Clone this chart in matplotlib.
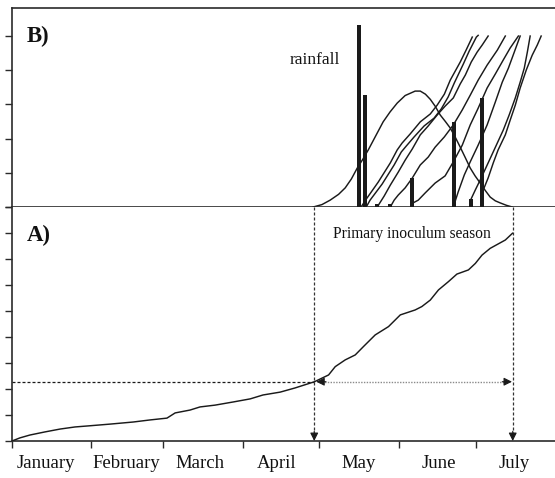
import matplotlib
matplotlib.use("Agg")
import matplotlib.pyplot as plt

plt.rcParams['font.family'] = ['Liberation Serif', 'DejaVu Serif']

# ---- data -------------------------------------------------------------
# x axis: day of year (0 = 1 January)
month_starts = [0, 31, 59, 90, 120, 151, 181, 212]
month_names = ['January', 'February', 'March', 'April', 'May', 'June', 'July']
month_label_days = [13.2, 44.5, 73.5, 103.5, 135.5, 166.5, 196.0]

season_start = 118.0
season_end = 195.5

# A) cumulative curve
a_days = [0, 3.1, 7.0, 12.9, 18.8, 24.6, 29.7, 38.3, 47.3, 53.9, 60.5, 63.7,
          69.5, 73.4, 79.3, 86.3, 93.0, 98.0, 104.7, 110.5, 118.1, 123.6,
          126.2, 130.1, 134.0, 137.2, 141.8, 147.0, 151.6, 157.4, 160.0,
          163.3, 166.5, 170.4, 173.7, 178.2, 180.9, 183.5, 186.7, 192.6, 195.4]
a_vals = [0, 0.12, 0.23, 0.35, 0.46, 0.54, 0.58, 0.65, 0.73, 0.81, 0.88, 1.08,
          1.19, 1.31, 1.38, 1.50, 1.62, 1.77, 1.88, 2.04, 2.28, 2.54,
          2.86, 3.12, 3.31, 3.63, 4.08, 4.40, 4.85, 5.04, 5.17,
          5.42, 5.81, 6.13, 6.42, 6.58, 6.83, 7.15, 7.41, 7.73, 7.99]

# B) rainfall events
rain_days = [135.5, 137.9, 142.6, 147.7, 156.3, 172.7, 179.3, 183.6]
rain_vals = [5.32, 3.27, 0.09, 0.09, 0.85, 2.49, 0.23, 3.19]

# B) seasonal release curve
bell_days = [117.6, 121.0, 124.2, 127.5, 130.1, 132.5, 134.8, 137.0, 139.1,
             142.0, 144.9, 147.6, 150.4, 153.5, 157.4, 159.4, 161.4, 163.3,
             165.2, 167.2, 169.2, 171.1, 173.0, 175.0, 177.0, 178.9, 180.8,
             182.8, 184.8, 186.7, 188.7, 190.6, 193.0, 195.3]
bell_vals = [0.0, 0.07, 0.20, 0.37, 0.56, 0.82, 1.14, 1.40, 1.67,
             2.08, 2.49, 2.78, 3.04, 3.26, 3.39, 3.39, 3.30, 3.15,
             2.95, 2.69, 2.50, 2.31, 2.05, 1.75, 1.44, 1.14, 0.91,
             0.70, 0.48, 0.29, 0.18, 0.12, 0.05, 0.0]

# B) progress curves following each rain event
prog_days = [
    [136.3, 138.3, 143.0, 147.7, 150.4, 152.3, 155.5, 159.4, 163.3, 166.0,
     168.8, 171.1, 175.0, 177.3, 179.7],
    [138.3, 139.8, 144.5, 149.2, 152.0, 153.9, 157.0, 160.9, 164.8, 167.6,
     170.3, 172.7, 176.2, 178.5, 181.3, 182.0],
    [142.6, 145.3, 147.7, 150.8, 153.5, 156.3, 159.4, 162.5, 166.0, 169.1,
     172.3, 175.0, 177.0, 179.3, 181.6, 183.6, 185.9],
    [147.7, 149.2, 150.8, 153.5, 156.3, 159.4, 162.5, 165.2, 168.8, 172.3,
     175.8, 178.9, 182.0, 185.5, 189.5, 192.6],
    [156.6, 158.6, 161.3, 165.2, 169.1, 172.3, 175.8, 178.9, 182.0, 185.5,
     188.7, 191.8, 194.5, 197.7],
    [172.3, 174.2, 176.6, 178.9, 182.0, 185.5, 188.7, 191.4, 193.8, 196.1,
     198.4],
    [178.9, 180.9, 182.8, 185.9, 189.1, 191.8, 194.1, 196.5, 198.4, 200.0,
     201.2, 202.3],
    [184.0, 185.9, 187.9, 189.8, 192.6, 194.5, 196.5, 198.4, 200.8, 203.1,
     205.1, 206.6],
]
prog_vals = [
    [0, 0.23, 0.73, 1.29, 1.67, 1.87, 2.14, 2.49, 2.72, 2.98,
     3.30, 3.71, 4.24, 4.59, 4.97],
    [0, 0.20, 0.67, 1.23, 1.61, 1.78, 2.05, 2.37, 2.60, 2.87,
     3.22, 3.63, 4.18, 4.56, 4.97, 5.02],
    [0, 0.32, 0.64, 1.02, 1.37, 1.70, 2.11, 2.37, 2.69, 2.95,
     3.19, 3.60, 3.86, 4.24, 4.53, 4.74, 5.00],
    [0, 0.20, 0.35, 0.56, 0.85, 1.23, 1.46, 1.75, 2.05, 2.40,
     2.84, 3.27, 3.71, 4.15, 4.59, 5.00],
    [0.12, 0.20, 0.41, 0.70, 0.91, 1.32, 1.81, 2.40, 2.89, 3.48,
     3.89, 4.30, 4.65, 5.00],
    [0, 0.44, 0.94, 1.32, 1.81, 2.40, 3.07, 3.65, 4.06, 4.53, 5.00],
    [0.18, 0.50, 0.79, 1.29, 1.81, 2.25, 2.69, 3.19, 3.65, 4.06, 4.53, 5.00],
    [0.50, 0.85, 1.29, 1.67, 2.11, 2.54, 2.98, 3.48, 4.01, 4.44, 4.74, 5.00],
]

# ---- figure -----------------------------------------------------------
W, H = 555, 478
fig = plt.figure(figsize=(W / 100, H / 100), dpi=100)
axB = fig.add_axes([12 / W, (H - 207) / H, 543 / W, 199 / H])
axA = fig.add_axes([12 / W, (H - 441) / H, 543 / W, 234 / H])

ink = '#1a1a1a'
spine_c = '#2a2a2a'

for ax in (axA, axB):
    ax.set_xlim(month_starts[0], month_starts[-1])
    ax.spines['right'].set_visible(False)
    for s in ('left', 'top', 'bottom'):
        ax.spines[s].set_color(spine_c)
        ax.spines[s].set_linewidth(1.2)
    ax.tick_params(axis='y', direction='out', length=5, width=1.0,
                   color=spine_c, labelleft=False)

axA.spines['top'].set_visible(False)
axB.set_ylim(0, 5.82)
axA.set_ylim(0, 9)
axB.set_yticks(range(0, 6))
axA.set_yticks(range(0, 10))

axB.set_xticks([])
axA.set_xticks(month_starts[:-1])
axA.set_xticklabels([])
axA.set_xticks(month_label_days, minor=True)
axA.set_xticklabels(month_names, minor=True, fontsize=13.5, color='#111111')
axA.tick_params(axis='x', which='major', direction='out', length=5,
                width=1.0, color=spine_c)
axA.tick_params(axis='x', which='minor', length=0, pad=10)

# ---- panel B ----------------------------------------------------------
axB.bar(rain_days, rain_vals, width=1.6, color=ink, zorder=3)
axB.plot(bell_days, bell_vals, color=ink, lw=1.05, zorder=2)
for dd, vv in zip(prog_days, prog_vals):
    axB.plot(dd, vv, color=ink, lw=1.05, zorder=2)

axB.text(0.0276, 0.829, 'B)', transform=axB.transAxes, fontsize=16.5,
         fontweight='bold', color='#111111', va='baseline')
axB.text(0.512, 0.719, 'rainfall', transform=axB.transAxes, fontsize=12.5,
         color='#111111', va='baseline')

# ---- panel A ----------------------------------------------------------
axA.plot(a_days, a_vals, color=ink, lw=1.05, zorder=3)
level = a_vals[a_days.index(118.1)]

axA.text(0.0276, 0.855, 'A)', transform=axA.transAxes, fontsize=16.5,
         fontweight='bold', color='#111111', va='baseline')
axA.text(0.591, 0.868, 'Primary inoculum season', transform=axA.transAxes,
         fontsize=11.2, color='#111111', va='baseline')

head = dict(arrowstyle='-|>', color=ink, lw=0.8, mutation_scale=12,
            shrinkA=0, shrinkB=0)

dash_c = '#333333'
axA.plot([0, season_start], [level, level], color=ink, lw=0.9,
         dashes=(2.4, 1.6))
for xd in (season_start, season_end):
    axA.plot([xd, xd], [9, 0.3], color=dash_c, lw=0.9, dashes=(2.4, 1.6),
             clip_on=False)
    axA.annotate('', xy=(xd, 0), xytext=(0, 7), textcoords='offset points',
                 arrowprops=head)

axA.plot([season_start + 2.0, season_end - 2.0], [level, level],
         color='#8a8a8a', lw=1.0, dashes=(1.0, 1.0))
axA.annotate('', xy=(season_start + 0.8, level), xytext=(7, 0),
             textcoords='offset points', arrowprops=head)
axA.annotate('', xy=(season_end - 0.3, level), xytext=(-7, 0),
             textcoords='offset points', arrowprops=head)

fig.savefig('out.png', dpi=100)
